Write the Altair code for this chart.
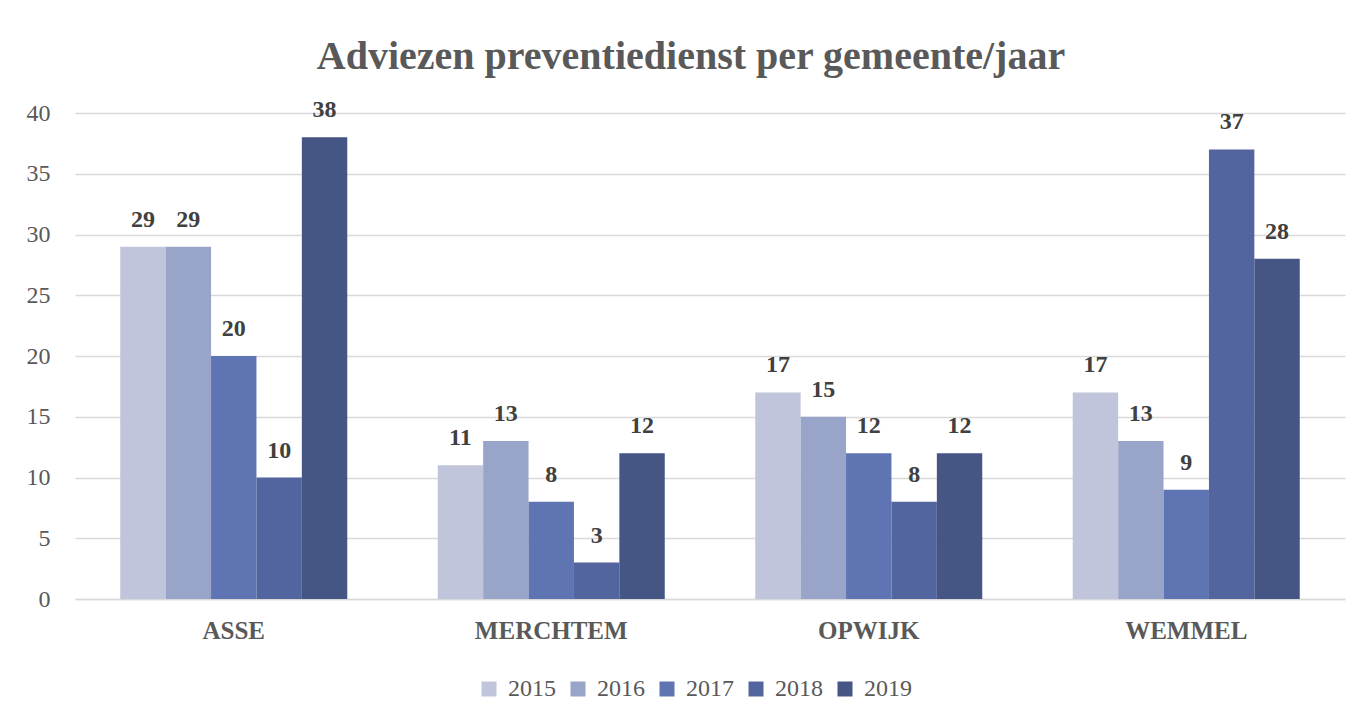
import altair as alt
import pandas as pd

gemeenten = ["ASSE", "MERCHTEM", "OPWIJK", "WEMMEL"]
jaren = ["2015", "2016", "2017", "2018", "2019"]
v2015 = [29, 11, 17, 17]
v2016 = [29, 13, 15, 13]
v2017 = [20, 8, 12, 9]
v2018 = [10, 3, 8, 37]
v2019 = [38, 12, 12, 28]
kleuren = ["#c0c5dc", "#98a5c8", "#5f75b3", "#53659f", "#455584"]

rows = []
for jaar, vals in zip(jaren, [v2015, v2016, v2017, v2018, v2019]):
    for g, v in zip(gemeenten, vals):
        rows.append({"gemeente": g, "jaar": jaar, "aantal": v})
df = pd.DataFrame(rows)

FONT = "Liberation Serif"

base = alt.Chart(df).encode(
    x=alt.X("gemeente:N", sort=gemeenten, title=None,
            scale=alt.Scale(paddingInner=0.285, paddingOuter=0.1425),
            axis=alt.Axis(labelAngle=0, labelFont=FONT, labelFontSize=25,
                          labelFontWeight="bold", labelColor="#595959",
                          labelPadding=19, ticks=False, domain=True,
                          domainColor="#d9d9d9", domainWidth=1.5)),
    xOffset=alt.XOffset("jaar:N", sort=jaren),
)

bars = base.mark_bar().encode(
    y=alt.Y("aantal:Q", title=None,
            scale=alt.Scale(domain=[0, 40]),
            axis=alt.Axis(values=[0, 5, 10, 15, 20, 25, 30, 35, 40],
                          labelFont=FONT, labelFontSize=24, labelColor="#595959",
                          labelPadding=25, ticks=False, domain=False,
                          grid=True, gridColor="#d9d9d9", gridWidth=1.5)),
    color=alt.Color("jaar:N", sort=jaren,
                    scale=alt.Scale(domain=jaren, range=kleuren),
                    legend=alt.Legend(title=None, orient="none", direction="horizontal",
                                      legendX=402, legendY=564,
                                      symbolType="square", symbolSize=225,
                                      symbolStrokeWidth=0,
                                      labelFont=FONT, labelFontSize=24,
                                      labelColor="#595959", labelOffset=7,
                                      columnPadding=10)),
)

labels = base.mark_text(baseline="alphabetic", dy=-20, font=FONT, fontSize=24,
                        fontWeight="bold", color="#404040").encode(
    y=alt.Y("aantal:Q"),
    text=alt.Text("aantal:Q"),
)

chart = alt.layer(bars, labels).properties(
    width=1270, height=486,
    autosize=alt.AutoSizeParams(type="none"),
    padding={"left": 67, "top": 105, "right": 8, "bottom": 110},
    title=alt.Title("Adviezen preventiedienst per gemeente/jaar",
                    font=FONT, fontSize=40, fontWeight="bold", color="#595959",
                    anchor="middle", dx=-19, offset=21),
).configure_view(stroke=None)

chart.save("out.html", embed_options={"renderer": "svg", "actions": False})
